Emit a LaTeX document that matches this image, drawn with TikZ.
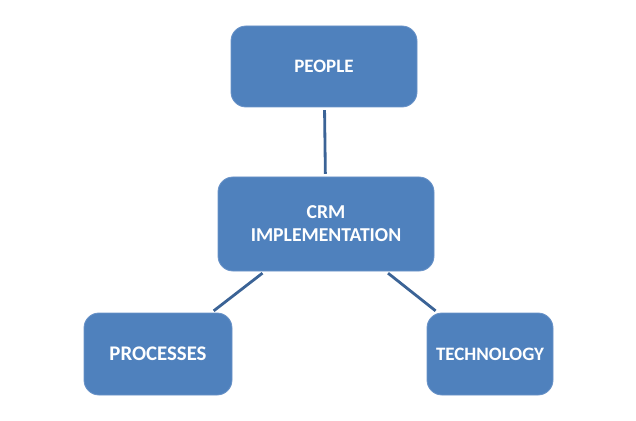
\documentclass[tikz,border=0pt]{standalone}
\usepackage{fontspec}
\setmainfont{Carlito}
\definecolor{boxblue}{HTML}{4F81BD}
\definecolor{boxedge}{HTML}{6A93C8}
\definecolor{linkblue}{HTML}{3B6396}
\tikzset{
	block/.style={rectangle, rounded corners=0.375cm, fill=boxblue, draw=boxedge, line width=0.6pt,
		text=white, font=\fontsize{13.5}{17}\selectfont\bfseries, align=center, inner sep=0pt},
	link/.style={draw=linkblue, line width=2pt, shorten <=2pt, shorten >=2pt}
}

\begin{document}
\begin{tikzpicture}
	
	\useasboundingbox (0, 0) rectangle (15.9, 10.5); % Размер как у образца

	\node[block, minimum width=4.65cm, minimum height=2.025cm] (people) at (8.1, 8.8375) {PEOPLE};
	\node[block, minimum width=5.4cm, minimum height=2.35cm, font=\fontsize{14}{16.4}\selectfont\bfseries] (crm) at (8.15, 4.9) {CRM\\IMPLEMENTATION};
	\node[block, minimum width=3.7cm, minimum height=2.05cm, font=\fontsize{14.8}{17}\selectfont\bfseries] (proc) at (3.95, 1.65) {PROCESSES};
	\node[block, minimum width=3.15cm, minimum height=2.05cm] (tech) at (12.25, 1.65) {TECHNOLOGY};

	\draw[link] (people) -- (crm);
	\draw[link] (crm) -- (proc);
	\draw[link] (crm) -- (tech);

\end{tikzpicture}
\end{document}
